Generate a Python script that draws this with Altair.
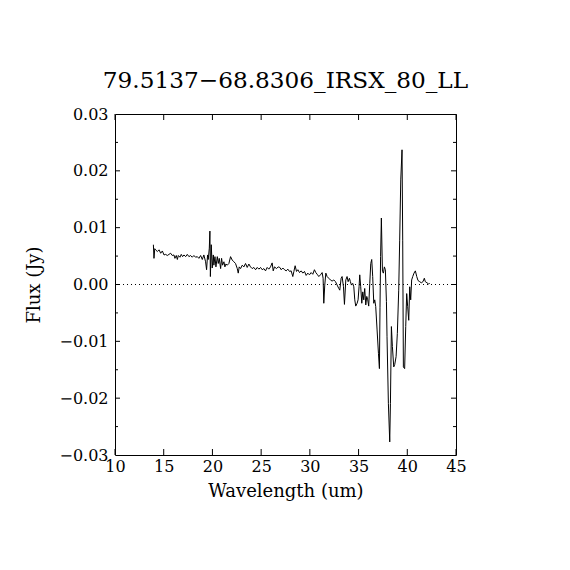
import altair as alt
import pandas as pd

title_text = "79.5137\u221268.8306_IRSX_80_LL"

wavelength = [
    13.94, 14.00, 14.08, 14.17, 14.35, 14.52, 14.69, 14.86, 15.03, 15.20, 15.37, 15.54,
    15.71, 15.88, 16.05, 16.15, 16.29, 16.40, 16.50, 16.67, 16.80, 16.94, 17.08, 17.25,
    17.42, 17.59, 17.76, 17.93, 18.10, 18.27, 18.45, 18.61, 18.79, 18.96, 19.12, 19.30,
    19.40, 19.50, 19.57, 19.68, 19.74, 19.79,
    19.88, 19.98, 20.09, 20.15, 20.26, 20.36, 20.50, 20.60, 20.70, 20.84, 20.94, 21.04,
    21.18, 21.28, 21.38, 21.52, 21.69, 21.86, 22.03, 22.20, 22.37, 22.55, 22.65, 22.75,
    22.89, 23.06, 23.23, 23.40, 23.57, 23.74, 23.91, 24.08, 24.25, 24.43, 24.60, 24.77,
    24.94, 25.11, 25.28, 25.45, 25.62, 25.79, 25.96, 26.13, 26.24, 26.37, 26.58, 26.75,
    26.92,
    27.06, 27.23, 27.40, 27.57, 27.74, 27.91, 28.08, 28.25, 28.36, 28.49, 28.63, 28.77,
    28.94, 29.11, 29.28, 29.45, 29.62, 29.79, 29.96, 30.13, 30.30, 30.47, 30.61, 30.75,
    30.92, 31.09, 31.26, 31.36, 31.43, 31.53, 31.64, 31.77, 31.94, 32.11, 32.28, 32.46,
    32.63, 32.80, 32.97, 33.07, 33.21, 33.31, 33.45, 33.55, 33.69, 33.82, 33.93, 34.06,
    34.16, 34.27, 34.40, 34.51, 34.61, 34.71, 34.85, 34.95, 35.05, 35.12, 35.22, 35.33,
    35.43, 35.53, 35.63, 35.74, 35.84, 35.94, 36.04, 36.15, 36.25, 36.35, 36.45, 36.56,
    36.66, 36.76, 36.90, 37.04, 37.14,
    37.20, 37.26, 37.34, 37.45, 37.55, 37.65, 37.75, 37.86, 37.92, 38.06, 38.20, 38.27,
    38.37, 38.47, 38.61, 38.71, 38.85, 38.98, 39.12, 39.22, 39.33, 39.46, 39.53, 39.60,
    39.73, 39.84, 39.94, 40.04, 40.15, 40.25, 40.35, 40.45, 40.56, 40.69, 40.83, 40.97,
    41.10, 41.27, 41.44, 41.61, 41.75, 41.85, 42.02, 42.19, 42.30,
]

flux = [
    0.0070, 0.0046, 0.0063, 0.0061, 0.0058, 0.0061, 0.0055, 0.0059, 0.0052, 0.0053, 0.0051, 0.0053,
    0.0055, 0.0051, 0.0052, 0.0046, 0.0051, 0.0044, 0.0051, 0.0048, 0.0053, 0.0049, 0.0052, 0.0049,
    0.0053, 0.0049, 0.0051, 0.0048, 0.0051, 0.0048, 0.0049, 0.0046, 0.0051, 0.0044, 0.0052, 0.0040,
    0.0026, 0.0052, 0.0044, 0.0064, 0.0094, 0.0014,
    0.0070, 0.0029, 0.0052, 0.0034, 0.0049, 0.0031, 0.0049, 0.0037, 0.0046, 0.0028, 0.0046, 0.0034,
    0.0040, 0.0031, 0.0036, 0.0034, 0.0037, 0.0049, 0.0043, 0.0040, 0.0037, 0.0028, 0.0020, 0.0031,
    0.0028, 0.0034, 0.0031, 0.0037, 0.0030, 0.0036, 0.0031, 0.0028, 0.0030, 0.0026, 0.0030, 0.0027,
    0.0030, 0.0026, 0.0028, 0.0024, 0.0030, 0.0027, 0.0031, 0.0038, 0.0024, 0.0031, 0.0028, 0.0031,
    0.0030,
    0.0026, 0.0029, 0.0026, 0.0024, 0.0027, 0.0023, 0.0024, 0.0014, 0.0023, 0.0033, 0.0023, 0.0026,
    0.0021, 0.0024, 0.0020, 0.0023, 0.0016, 0.0020, 0.0017, 0.0021, 0.0018, 0.0026, 0.0021, 0.0018,
    0.0014, 0.0017, 0.0021, 0.0011, -0.0033, -0.0001, 0.0020, 0.0014, 0.0011, 0.0008, 0.0006, 0.0008,
    0.0005, -0.0001, -0.0007, -0.0010, 0.0011, 0.0014, -0.0004, -0.0035, 0.0008, 0.0014, 0.0005, 0.0011,
    0.0005, -0.0001, 0.0002, -0.0004, -0.0027, -0.0038, -0.0033, -0.0027, -0.0004, 0.0017, -0.0004, -0.0033,
    -0.0013, -0.0027, -0.0007, -0.0036, -0.0021, -0.0027, -0.0038, 0.0002, 0.0037, 0.0044, 0.0014, -0.0033,
    -0.0027, -0.0039, -0.0080, -0.0121, -0.0148,
    -0.0040, 0.0049, 0.0117, 0.0023, 0.0020, 0.0031, 0.0026, -0.0030, -0.0092, -0.0209, -0.0277, -0.0209,
    -0.0074, -0.0109, -0.0145, -0.0141, -0.0127, -0.0086, -0.0010, 0.0078, 0.0184, 0.0237, 0.0078, -0.0145,
    -0.0148, -0.0074, -0.0016, -0.0039, -0.0063, -0.0004, -0.0027, 0.0008, 0.0014, 0.0020, 0.0024, 0.0014,
    0.0007, 0.0005, 0.0003, 0.0005, 0.0011, 0.0005, 0.0003, 0.0001, 0.0002,
]

x_tick_values = [10, 15, 20, 25, 30, 35, 40, 45]
y_label_values = [-0.03, -0.02, -0.01, 0.0, 0.01, 0.02, 0.03]
y_major_ticks = [-0.02, -0.01, 0.0, 0.01, 0.02]
y_minor_ticks = [-0.025, -0.015, -0.005, 0.005, 0.015, 0.025]

W = 341
H = 341
FONT = "DejaVu Serif"
X_TITLE = "Wavelength (um)"
Y_TITLE = "Flux (Jy)"

df = pd.DataFrame({"w": wavelength, "f": flux})
xs = alt.Scale(domain=[10, 45], nice=False, zero=False)
ys = alt.Scale(domain=[-0.03, 0.03], nice=False, zero=False)

x_axis = alt.Axis(values=x_tick_values, ticks=False, domain=False, grid=False,
                  labelFlush=False, labelOverlap=False, labelPadding=3,
                  labelFontSize=16, titleFontSize=18, titlePadding=8,
                  format="d")
y_axis = alt.Axis(values=y_label_values, ticks=False, domain=False, grid=False,
                  labelFlush=False, labelOverlap=False, labelPadding=7,
                  labelFontSize=16, titleFontSize=18, titlePadding=15,
                  format=".2f")


def X(field):
    return alt.X(field, type="quantitative", scale=xs, axis=x_axis, title=X_TITLE)


def Y(field):
    return alt.Y(field, type="quantitative", scale=ys, axis=y_axis, title=Y_TITLE)


line = alt.Chart(df).mark_line(color="black", strokeWidth=1).encode(
    x=X("w"), y=Y("f"),
)

zero = alt.Chart(pd.DataFrame({"z": [0.0]})).mark_rule(
    color="black", strokeDash=[1, 3], strokeWidth=1
).encode(y=Y("z"))

xt = pd.DataFrame({"v": x_tick_values})
ymaj = pd.DataFrame({"v": y_major_ticks})
ymin = pd.DataFrame({"v": y_minor_ticks})

bottom_ticks = alt.Chart(xt).mark_rule(color="black").encode(
    x=X("v"), y=alt.value(H), y2=alt.value(H - 6))
top_ticks = alt.Chart(xt).mark_rule(color="black").encode(
    x=X("v"), y=alt.value(0), y2=alt.value(6))
left_major = alt.Chart(ymaj).mark_rule(color="black").encode(
    y=Y("v"), x=alt.value(0), x2=alt.value(5))
right_major = alt.Chart(ymaj).mark_rule(color="black").encode(
    y=Y("v"), x=alt.value(W), x2=alt.value(W - 5))
left_minor = alt.Chart(ymin).mark_rule(color="black").encode(
    y=Y("v"), x=alt.value(0), x2=alt.value(3))
right_minor = alt.Chart(ymin).mark_rule(color="black").encode(
    y=Y("v"), x=alt.value(W), x2=alt.value(W - 3))

chart = alt.layer(
    line, zero, bottom_ticks, top_ticks, left_major, right_major, left_minor, right_minor
).properties(
    width=W, height=H,
    title=alt.TitleParams(title_text, font=FONT, fontSize=23.2, fontWeight="normal",
                          color="black", anchor="middle", baseline="alphabetic",
                          offset=1, dy=6),
    padding={"left": 107, "top": 106, "right": 98, "bottom": 98},
    autosize=alt.AutoSizeParams(type="none"),
    background="white",
).configure_axis(
    labelFont=FONT, titleFont=FONT, labelColor="black", titleColor="black",
    titleFontWeight="normal",
).configure_view(stroke="black", strokeWidth=1)

chart.save("out.html", embed_options={"renderer": "svg", "actions": False})
